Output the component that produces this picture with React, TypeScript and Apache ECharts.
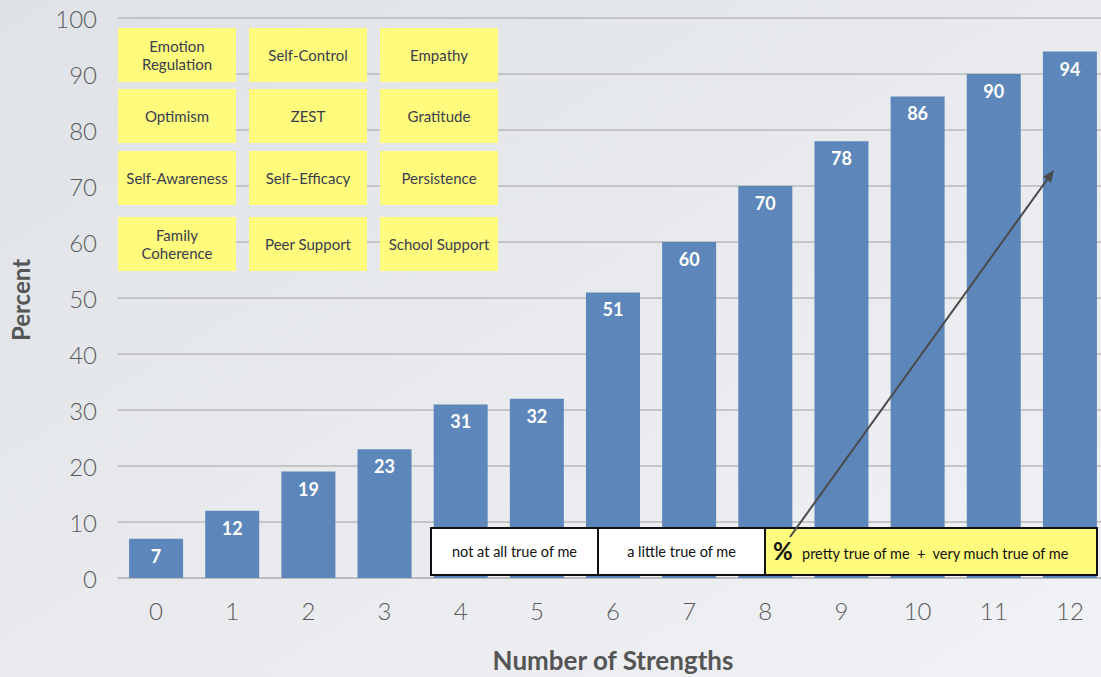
import React, { useEffect, useRef } from "react";
import * as echarts from "echarts";

// Number of strengths (x) and percent reporting the outcome (y)
const strengthCounts = ["0", "1", "2", "3", "4", "5", "6", "7", "8", "9", "10", "11", "12"];
const percentValues = [7, 12, 19, 23, 31, 32, 51, 60, 70, 78, 86, 90, 94];

// The twelve strengths shown as sticky notes, row by row
const strengthNotes = [
  ["Emotion\nRegulation", "Self-Control", "Empathy"],
  ["Optimism", "ZEST", "Gratitude"],
  ["Self-Awareness", "Self–Efficacy", "Persistence"],
  ["Family\nCoherence", "Peer Support", "School Support"],
];

// Response scale legend
const scaleLabels = ["not at all true of me", "a little true of me", "pretty true of me  +  very much true of me"];

const FONT = "Lato, 'Open Sans', sans-serif";

const noteCols = [118, 249, 380];
const noteRows = [28, 89, 151, 217];

function buildNotes() {
  const items: any[] = [];
  strengthNotes.forEach((row, r) => {
    row.forEach((label, c) => {
      const x = noteCols[c];
      const y = noteRows[r];
      items.push({
        type: "rect",
        shape: { x, y, width: 118, height: 54 },
        style: { fill: "#fffb7d" },
        z: 10,
      });
      items.push({
        type: "text",
        x: x + 59,
        y: y + 27,
        style: {
          text: label,
          fill: "#3a3d4e",
          font: `15px ${FONT}`,
          align: "center",
          verticalAlign: "middle",
          lineHeight: 18,
        },
        z: 11,
      });
    });
  });
  return items;
}

function buildScale() {
  const top = 528;
  const h = 47;
  const cells = [
    { x: 431, w: 167, fill: "#ffffff" },
    { x: 598, w: 167, fill: "#ffffff" },
    { x: 765, w: 332, fill: "#fffb7d" },
  ];
  const items: any[] = [];
  cells.forEach((c) => {
    items.push({
      type: "rect",
      shape: { x: c.x, y: top, width: c.w, height: h },
      style: { fill: c.fill, stroke: "#111111", lineWidth: 2 },
      z: 20,
    });
  });
  items.push({
    type: "text",
    x: 431 + 83.5,
    y: top + h / 2,
    style: { text: scaleLabels[0], fill: "#111", font: `14.5px ${FONT}`, align: "center", verticalAlign: "middle" },
    z: 21,
  });
  items.push({
    type: "text",
    x: 598 + 83.5,
    y: top + h / 2,
    style: { text: scaleLabels[1], fill: "#111", font: `14.5px ${FONT}`, align: "center", verticalAlign: "middle" },
    z: 21,
  });
  items.push({
    type: "text",
    x: 773,
    y: top + h / 2 - 1,
    style: { text: "%", fill: "#111", font: `bold 24px ${FONT}`, align: "left", verticalAlign: "middle" },
    z: 21,
  });
  items.push({
    type: "text",
    x: 802,
    y: top + h / 2 + 2,
    style: { text: scaleLabels[2], fill: "#111", font: `14.5px ${FONT}`, align: "left", verticalAlign: "middle" },
    z: 21,
  });
  return items;
}

function buildArrow() {
  const x1 = 790, y1 = 537, x2 = 1054, y2 = 170;
  const dx = x2 - x1, dy = y2 - y1;
  const len = Math.sqrt(dx * dx + dy * dy);
  const ux = dx / len, uy = dy / len;
  const px = -uy, py = ux;
  const headLen = 12, headHalf = 5;
  const bx = x2 - ux * headLen, by = y2 - uy * headLen;
  return [
    {
      type: "line",
      shape: { x1, y1, x2: bx, y2: by },
      style: { stroke: "#4a4a4a", lineWidth: 2 },
      z: 30,
    },
    {
      type: "polygon",
      shape: {
        points: [
          [x2, y2],
          [bx + px * headHalf, by + py * headHalf],
          [bx - px * headHalf, by - py * headHalf],
        ],
      },
      style: { fill: "#4a4a4a" },
      z: 30,
    },
  ];
}

export default function App() {
  const ref = useRef<HTMLDivElement>(null);

  useEffect(() => {
    if (!ref.current) return;
    const chart = echarts.init(ref.current, undefined, { renderer: "svg" });
    chart.setOption({
      animation: false,
      backgroundColor: {
        type: "linear",
        x: 0,
        y: 0,
        x2: 1,
        y2: 1,
        colorStops: [
          { offset: 0, color: "#dfe2e6" },
          { offset: 1, color: "#f1f2f5" },
        ],
      },
      // the plot runs slightly past the right edge of the canvas
      grid: { left: 118, width: 990, top: 18, bottom: 99, outerBoundsMode: "none" },
      xAxis: {
        type: "category",
        data: strengthCounts,
        axisLine: { show: true, lineStyle: { color: "#b9b9b9", width: 1.5 } },
        axisTick: { show: false },
        axisLabel: { color: "#5a5a5a", fontSize: 24, fontFamily: FONT, fontWeight: 300, margin: 20 },
      },
      yAxis: {
        type: "value",
        min: 0,
        max: 100,
        interval: 10,
        axisLine: { show: false },
        axisTick: { show: false },
        axisLabel: { color: "#5a5a5a", fontSize: 24, fontFamily: FONT, fontWeight: 300, margin: 21 },
        splitLine: { lineStyle: { color: "#b9b9b9", width: 1.5 } },
      },
      series: [
        {
          type: "bar",
          data: percentValues,
          barWidth: 54,
          itemStyle: { color: "#5d87ba" },
          label: {
            show: true,
            position: "insideTop",
            distance: 8,
            color: "#ffffff",
            fontSize: 18,
            fontWeight: "bold",
            fontFamily: FONT,
          },
        },
      ],
      graphic: [
        {
          type: "text",
          x: 613,
          y: 660,
          style: {
            text: "Number of Strengths",
            fill: "#555555",
            font: `bold 26px ${FONT}`,
            align: "center",
            verticalAlign: "middle",
          },
        },
        {
          type: "text",
          x: 20,
          y: 300,
          rotation: Math.PI / 2,
          style: {
            text: "Percent",
            fill: "#555555",
            font: `bold 24px ${FONT}`,
            align: "center",
            verticalAlign: "middle",
          },
        },
        ...buildNotes(),
        ...buildScale(),
        ...buildArrow(),
      ],
    });
    return () => chart.dispose();
  }, []);

  return (
    <div
      ref={ref}
      style={{ position: "fixed", left: 0, top: 0, width: 1101, height: 677 }}
    />
  );
}
